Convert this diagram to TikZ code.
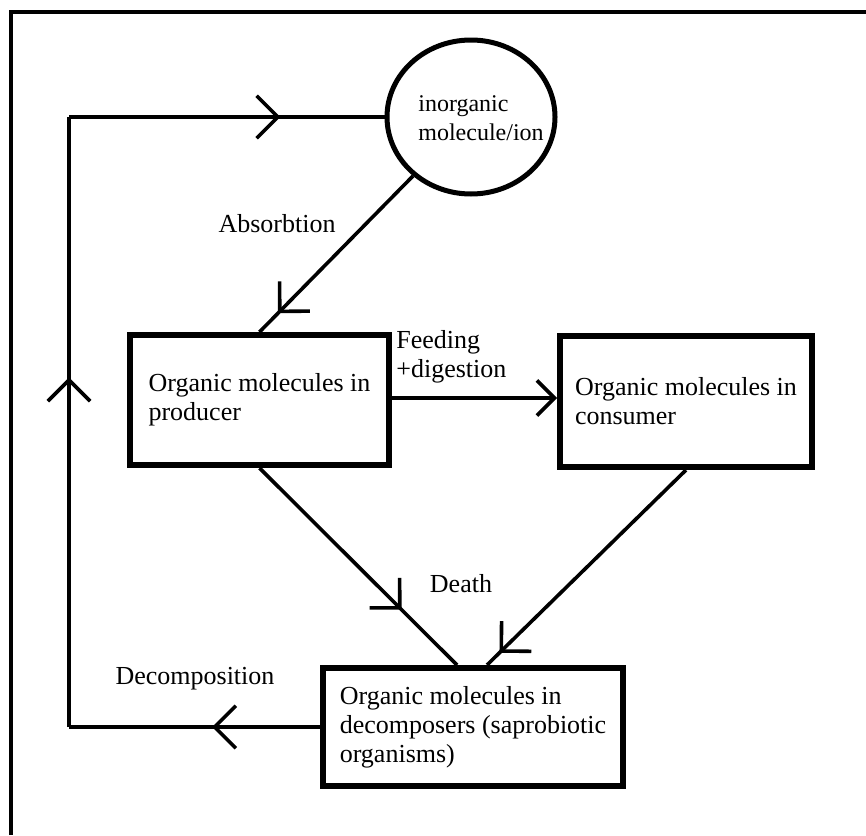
\documentclass[tikz,border=0pt]{standalone}
\usepackage{fontspec}
\setmainfont{Liberation Serif}
\usetikzlibrary{arrows.meta,shapes.geometric,decorations.markings}

\tikzset{
  barb/.tip={Straight Barb[length=10.6pt,width=21.2pt]},
  smallbarb/.tip={Straight Barb[length=8.8pt,width=17.6pt]},
  pool/.style={draw,line width=3pt,align=left,inner sep=0pt,
    font=\fontsize{13}{14.5}\selectfont},
  flow/.style={line width=1.8pt},
  midtip/.style={postaction={decorate,decoration={markings,
    mark=at position #1 with {\arrow{barb}}}}},
  lbl/.style={inner sep=0pt,font=\fontsize{13}{14.5}\selectfont},
}

\begin{document}
\begin{tikzpicture}[x=0.5pt,y=-0.5pt]
  \useasboundingbox (0,0) rectangle (866,835);
  \draw[line width=1.8pt] (11,835) -- (11,12) -- (866,12);

  % pools
  \node[draw,ellipse,line width=2.5pt,minimum width=84pt,minimum height=77pt,
    inner sep=0pt] (ell) at (471,117) {};
  \node[lbl,align=left,font=\fontsize{12}{14.5}\selectfont] (ellTxt) at (481,118)
    {inorganic\\molecule/ion};
  \node[pool,minimum width=129.5pt,minimum height=65pt] (prod) at (259.5,400)
    {Organic molecules in\\producer};
  \node[pool,minimum width=126pt,minimum height=65.5pt] (cons) at (686,401.5)
    {Organic molecules in\\consumer};
  \node[pool,minimum width=150pt,minimum height=59pt] (dec) at (473,727)
    {Organic molecules in\\decomposers (saprobiotic\\organisms)};

  % loop back to the inorganic pool
  \coordinate (ltop) at (69,117);
  \coordinate (lbot) at (dec.west -| ltop);
  \draw[flow,midtip=0.43] (dec.west) -- (lbot);
  \draw[flow,midtip=0.573] (lbot) -- (ltop);
  \draw[flow,midtip=0.67] (ltop) -- (ell.west);

  \draw[flow,midtip=0.88] (ell) -- (prod.north);
  \draw[flow,-{smallbarb}] ([yshift=1pt]prod.east) -- ([yshift=1pt]prod.east -| cons.west);
  \draw[flow,midtip=0.72] (prod.south) -- ([xshift=-8pt]dec.north);
  \draw[flow,midtip=0.94] (cons.south) -- ([xshift=7pt]dec.north);

  % labels
  \node[lbl] (absLbl) at (277,224) {Absorbtion};
  \node[lbl,align=left,anchor=west] (feedLbl) at (396,357) {Feeding\\+digestion};
  \node[lbl] (deathLbl) at (461,584) {Death};
  \node[lbl] (decLbl) at (195,679) {Decomposition};
\end{tikzpicture}
\end{document}
